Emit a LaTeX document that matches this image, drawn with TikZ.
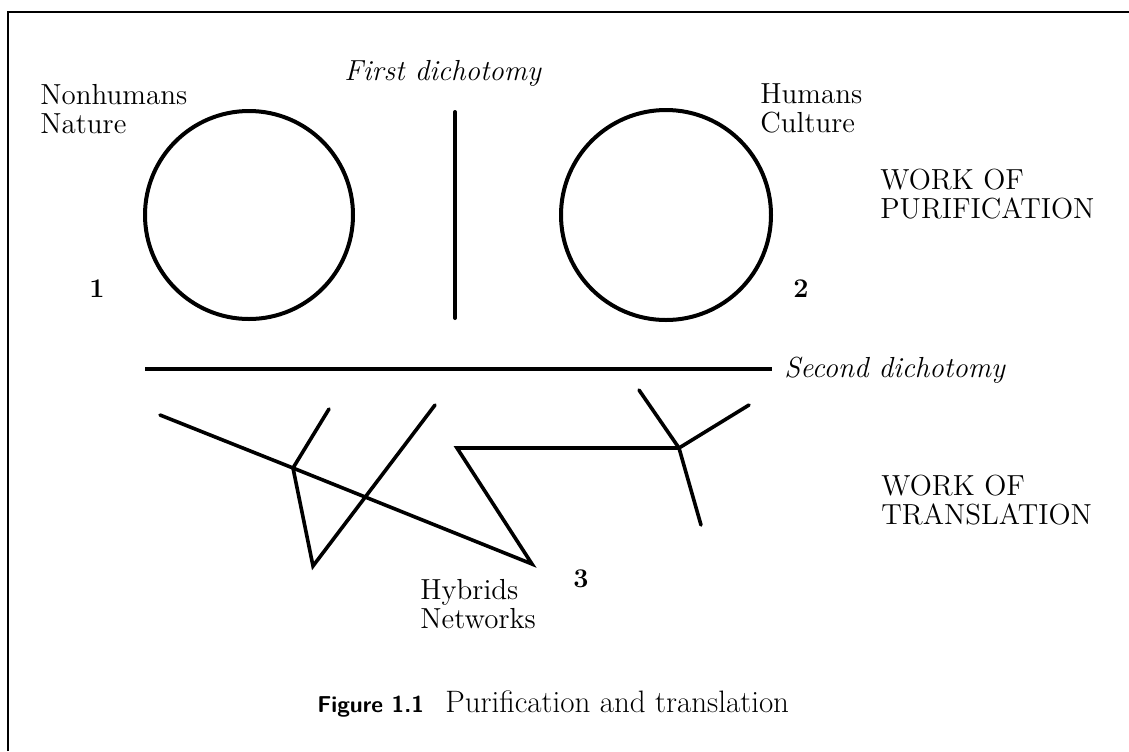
\documentclass[tikz,border=0pt]{standalone}
\usepackage{tikz}

\tikzset{
  ring/.style={line width=2pt},
  wire/.style={line width=1.8pt, line cap=round, line join=miter},
  lbl/.style={anchor=base west, inner sep=0pt, align=left, font=\fontsize{14.5}{14.5}\selectfont},
  num/.style={lbl, font=\fontsize{13.5}{14.5}\selectfont\bfseries},
  ital/.style={lbl, font=\fontsize{14.5}{14.5}\selectfont\itshape},
}

\begin{document}
\begin{tikzpicture}[x=0.5pt,y=-0.5pt]
\useasboundingbox (0,0) rectangle (1129,751) ;

\draw[line width=0.8pt] (8,751) -- (8,12) -- (1129,12) ;

\draw[ring] (249,215) circle (104) ;
\draw[ring] (666,215) circle (105) ;
\draw[ring, line cap=round] (455,112) -- (455,318) ;
\node[ital] (first) at (344,80) {First dichotomy} ;
\node[lbl] (nature) at (40,133) {Nonhumans\\Nature} ;
\node[lbl] (culture) at (760,132) {Humans\\Culture} ;
\node[num] (one) at (89,297) {1} ;
\node[num] (two) at (793,297) {2} ;
\node[lbl] (purif) at (880,218) {WORK OF\\PURIFICATION} ;

\node[ital] (second) at (784,377) {Second dichotomy} ;
\draw[ring] (145,369) -- ([xshift=-6pt]second.west |- 0,369) ;

\coordinate (w1) at (160,415) ;
\coordinate (j1) at (293,468) ;
\coordinate (t1) at (329,409) ;
\coordinate (v1) at (313,566) ;
\coordinate (t2) at (435,405) ;
\coordinate (z1) at (532,564) ;
\coordinate (z2) at (457,448) ;
\coordinate (j2) at (679,448) ;
\coordinate (t3) at (639,390) ;
\coordinate (t4) at (749,405) ;
\coordinate (t5) at (701,525) ;
\draw[wire] (w1) -- (j1) -- (z1) -- (z2) -- (j2) ;
\draw[wire] (j1) -- (t1) ;
\draw[wire] (j1) -- (v1) -- (t2) ;
\draw[wire] (j2) -- (t3) ;
\draw[wire] (j2) -- (t4) ;
\draw[wire] (j2) -- (t5) ;

\node[lbl] (transl) at (881,524) {WORK OF\\TRANSLATION} ;
\node[num] (three) at (573,587) {3} ;
\node[lbl] (hybrids) at (420,628) {Hybrids\\Networks} ;

\node[anchor=base west, inner sep=0pt, font=\sffamily\bfseries\fontsize{11.5}{12}\selectfont] (figno) at (317,712) {Figure 1.1} ;
\node[anchor=base west, inner sep=0pt, font=\fontsize{15.5}{17}\selectfont] (figtitle) at (445,712) {Purification and translation} ;
\end{tikzpicture}
\end{document}
